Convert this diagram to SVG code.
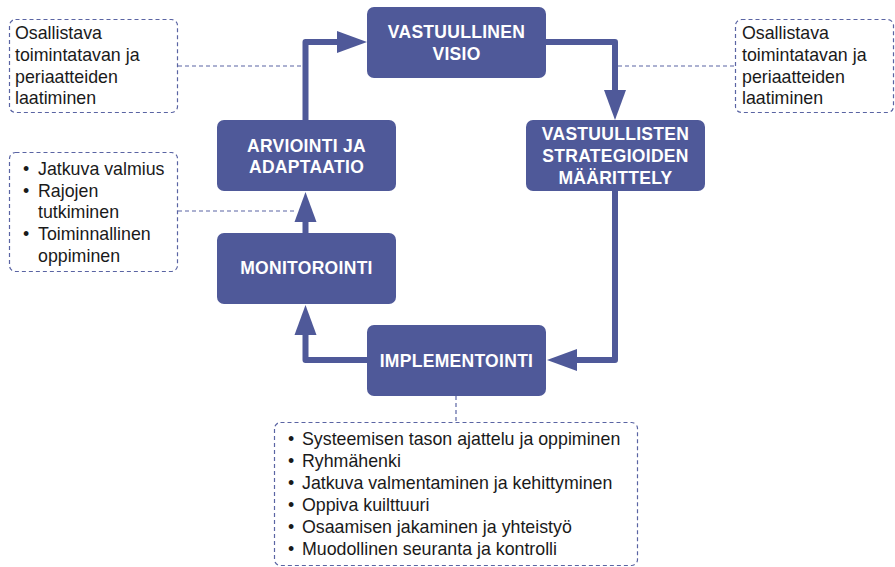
<svg xmlns="http://www.w3.org/2000/svg" width="895" height="567" viewBox="0 0 895 567">
<style>
.node rect{fill:#4f5999;}
.node text{fill:#ffffff;font-family:"Liberation Sans",Arial,sans-serif;font-weight:bold;font-size:17.5px;letter-spacing:0.3px;text-anchor:middle;}
.note rect{fill:#ffffff;stroke:#5a64a3;stroke-width:1.2;stroke-dasharray:4 3;}
.note text{fill:#1a1a1a;font-family:"Liberation Sans",Arial,sans-serif;font-size:17.8px;}
.conn{fill:none;stroke:#4f5999;stroke-width:6;stroke-linejoin:round;}
.dash{fill:none;stroke:#5a64a3;stroke-width:1.2;stroke-dasharray:4 3;}
</style>
<defs>
<marker id="ah" markerUnits="userSpaceOnUse" markerWidth="30" markerHeight="22" refX="0" refY="11" orient="auto" viewBox="0 0 30 22" overflow="visible">
<path d="M0,0 L30,11 L0,22 z" fill="#4f5999"/>
</marker>
</defs>
<rect width="895" height="567" fill="#ffffff"/>
<g id="connectors">
<path class="dash" d="M178,66 H303"/>
<path class="dash" d="M618,66 H735"/>
<path class="dash" d="M178,211 H295"/>
<path class="dash" d="M456,396 V422"/>
<path class="conn" d="M305.5,120 V42 H337" marker-end="url(#ah)"/>
<path class="conn" d="M546,42 H615 V90" marker-end="url(#ah)"/>
<path class="conn" d="M615,191 V360 H577" marker-end="url(#ah)"/>
<path class="conn" d="M367,360 H305.5 V335" marker-end="url(#ah)"/>
<path class="conn" d="M305.5,233 V222" marker-end="url(#ah)"/>
</g>
<g id="node-visio" class="node">
<rect x="367" y="7" width="179" height="71" rx="7"/>
<text x="456.5" y="38">VASTUULLINEN</text>
<text x="456.5" y="60">VISIO</text>
</g>
<g id="node-strategiat" class="node">
<rect x="526" y="120" width="179" height="71" rx="7"/>
<text x="615.5" y="140">VASTUULLISTEN</text>
<text x="615.5" y="162">STRATEGIOIDEN</text>
<text x="615.5" y="184">MÄÄRITTELY</text>
</g>
<g id="node-implementointi" class="node">
<rect x="367" y="325" width="179" height="71" rx="7"/>
<text x="456.5" y="367">IMPLEMENTOINTI</text>
</g>
<g id="node-monitorointi" class="node">
<rect x="217" y="233" width="179" height="71" rx="7"/>
<text x="306.5" y="274">MONITOROINTI</text>
</g>
<g id="node-arviointi" class="node">
<rect x="217" y="120" width="179" height="71" rx="7"/>
<text x="306.5" y="152">ARVIOINTI JA</text>
<text x="306.5" y="173">ADAPTAATIO</text>
</g>
<g id="note-topleft" class="note">
<rect x="9.5" y="19.5" width="168" height="93" rx="6"/>
<text x="15" y="39">Osallistava</text>
<text x="15" y="61">toimintatavan ja</text>
<text x="15" y="83">periaatteiden</text>
<text x="15" y="104">laatiminen</text>
</g>
<g id="note-topright" class="note">
<rect x="735.5" y="19.5" width="158" height="93" rx="6"/>
<text x="742" y="39">Osallistava</text>
<text x="742" y="61">toimintatavan ja</text>
<text x="742" y="83">periaatteiden</text>
<text x="742" y="104">laatiminen</text>
</g>
<g id="note-middleleft" class="note">
<rect x="9.5" y="152.5" width="168" height="119" rx="6"/>
<text x="23" y="175">•</text><text x="38" y="175">Jatkuva valmius</text>
<text x="23" y="197">•</text><text x="38" y="197">Rajojen</text>
<text x="38" y="218">tutkiminen</text>
<text x="23" y="240">•</text><text x="38" y="240">Toiminnallinen</text>
<text x="38" y="262">oppiminen</text>
</g>
<g id="note-bottom" class="note">
<rect x="274.5" y="422.5" width="363" height="143" rx="6"/>
<text x="288" y="445">•</text><text x="302" y="445">Systeemisen tason ajattelu ja oppiminen</text>
<text x="288" y="467">•</text><text x="302" y="467">Ryhmähenki</text>
<text x="288" y="489">•</text><text x="302" y="489">Jatkuva valmentaminen ja kehittyminen</text>
<text x="288" y="511">•</text><text x="302" y="511">Oppiva kuilttuuri</text>
<text x="288" y="533">•</text><text x="302" y="533">Osaamisen jakaminen ja yhteistyö</text>
<text x="288" y="555">•</text><text x="302" y="555">Muodollinen seuranta ja kontrolli</text>
</g>
</svg>
